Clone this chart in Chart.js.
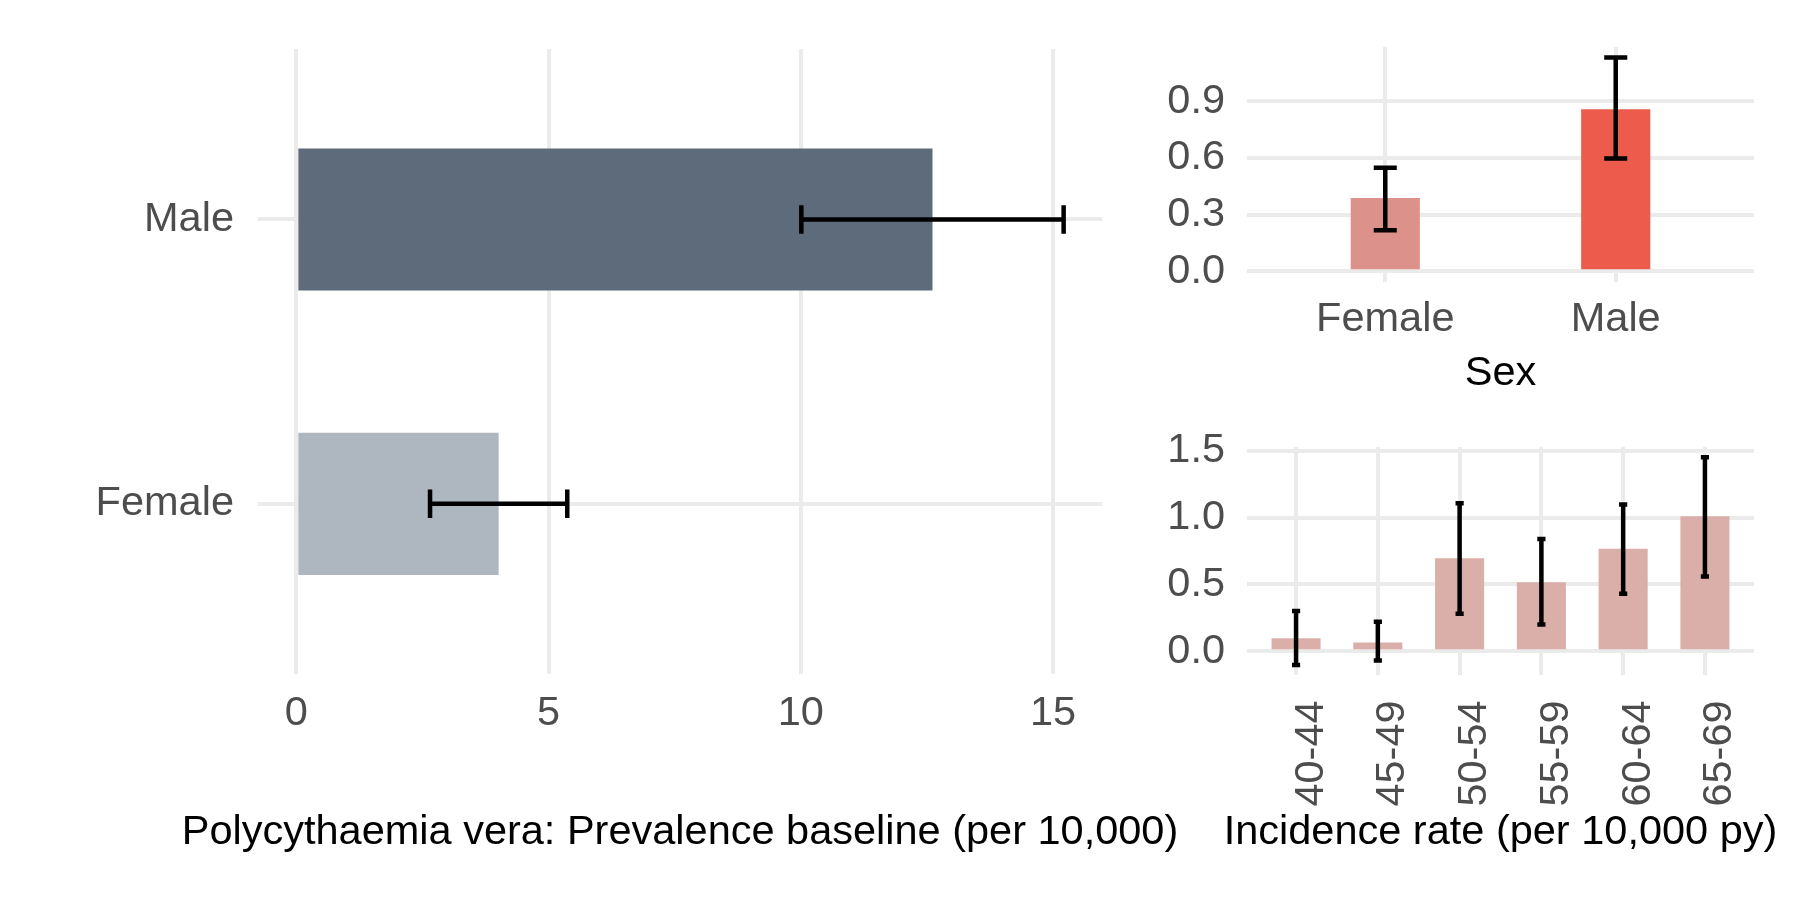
<!DOCTYPE html>
<html>
<head>
<meta charset="utf-8">
<script src="https://cdn.jsdelivr.net/npm/chart.js@4.4.1/dist/chart.umd.min.js"></script>
<style>
  html, body { margin: 0; padding: 0; background: #fff; overflow: hidden; }
  #wrap { position: relative; width: 1800px; height: 900px; }
  canvas { position: absolute; }
</style>
</head>
<body>
<div id="wrap">
  <canvas id="prevalenceChart" width="1360" height="900" style="left:0;top:0"></canvas>
  <canvas id="sexChart" width="701" height="398" style="left:1150px;top:0"></canvas>
  <canvas id="ageChart" width="701" height="500" style="left:1150px;top:400px"></canvas>
</div>
<script>
// Prevalence at baseline (per 10,000) by sex
const sexes = ['Female', 'Male'];
const prevalence = [4.01, 12.61];
const prevalenceLow = [2.65, 10.01];
const prevalenceHigh = [5.37, 15.21];
const prevalenceTicks = [0, 5, 10, 15];

// Incidence rate (per 10,000 py) by sex
const sexRate = [0.388, 0.858];
const sexRateLow = [0.218, 0.598];
const sexRateHigh = [0.549, 1.132];
const sexRateTicks = [0, 0.3, 0.6, 0.9];

// Incidence rate (per 10,000 py) by age group
const ageGroups = ['40-44', '45-49', '50-54', '55-59', '60-64', '65-69'];
const ageRate = [0.097, 0.065, 0.697, 0.517, 0.767, 1.011];
const ageRateLow = [-0.103, -0.07, 0.28, 0.20, 0.43, 0.56];
const ageRateHigh = [0.302, 0.22, 1.107, 0.84, 1.098, 1.452];
const ageRateTicks = [0, 0.5, 1.0, 1.5];

Chart.defaults.font.family = '"Liberation Sans", Arial, Helvetica, sans-serif';
Chart.defaults.font.size = 41.5;
Chart.defaults.color = '#4D4D4D';

const gridColor = '#EBEBEB';

// ggplot style 5% expansion of the value range
function expand(lo, hi) {
    const p = (hi - lo) * 0.05;
    return [lo - p, hi + p];
}

function fixedTicks(list) {
    return function(scale) {
        scale.ticks = list.map(v => ({ value: v }));
    };
}

// draws error bars through the chart scales
function errorBars(lower, upper, capFrac, lineWidth) {
    return {
        id: 'errorBars',
        afterDatasetsDraw(chart) {
            const horizontal = chart.options.indexAxis === 'y';
            const iScale = horizontal ? chart.scales.y : chart.scales.x;
            const vScale = horizontal ? chart.scales.x : chart.scales.y;
            const step = Math.abs(iScale.getPixelForValue(2) - iScale.getPixelForValue(1));
            const half = step * capFrac / 2;
            const ctx = chart.ctx;
            ctx.save();
            ctx.strokeStyle = '#000';
            ctx.lineWidth = lineWidth;
            chart.getDatasetMeta(0).data.forEach((bar, i) => {
                const c = horizontal ? bar.y : bar.x;
                const a = vScale.getPixelForValue(lower[i]);
                const b = vScale.getPixelForValue(upper[i]);
                ctx.beginPath();
                if (horizontal) {
                    ctx.moveTo(a, c); ctx.lineTo(b, c);
                    ctx.moveTo(a, c - half); ctx.lineTo(a, c + half);
                    ctx.moveTo(b, c - half); ctx.lineTo(b, c + half);
                } else {
                    ctx.moveTo(c, a); ctx.lineTo(c, b);
                    ctx.moveTo(c - half, a); ctx.lineTo(c + half, a);
                    ctx.moveTo(c - half, b); ctx.lineTo(c + half, b);
                }
                ctx.stroke();
            });
            ctx.restore();
        }
    };
}

const noPlugins = { legend: { display: false }, tooltip: { enabled: false } };

function spacer(width) {
    return {
        type: 'linear', position: 'right', display: true,
        grid: { display: false }, border: { display: false }, ticks: { display: false },
        afterFit: s => { s.width = width; }
    };
}

// Left panel
const prevRange = expand(Math.min(0, ...prevalenceLow), Math.max(...prevalenceHigh));
new Chart(document.getElementById('prevalenceChart'), {
    type: 'bar',
    data: {
        datasets: [{
            data: sexes.map((s, i) => ({ x: prevalence[i], y: i + 1 })),
            backgroundColor: ['#AEB6BF', '#5D6B7B'],
            borderWidth: 0,
            barPercentage: 0.5,
            categoryPercentage: 1
        }]
    },
    options: {
        indexAxis: 'y',
        responsive: false,
        animation: false,
        devicePixelRatio: 1,
        layout: { padding: { top: 45, left: 0, right: 0, bottom: 0 } },
        scales: {
            x: {
                type: 'linear', min: prevRange[0], max: prevRange[1],
                afterBuildTicks: fixedTicks(prevalenceTicks),
                ticks: { padding: 14, callback: v => String(v) },
                grid: { color: gridColor, lineWidth: 4, drawTicks: false },
                border: { display: false },
                afterFit: s => { s.height = 132.8; }
            },
            y: {
                type: 'linear', min: 0.4, max: sexes.length + 0.6, offset: false,
                afterBuildTicks: fixedTicks(sexes.map((s, i) => i + 1)),
                ticks: { padding: 24, callback: (v, i) => sexes[i] },
                grid: { color: gridColor, lineWidth: 4, drawTicks: false, offset: false },
                border: { display: false },
                afterFit: s => { s.width = 258; }
            },
            pad: spacer(258)
        },
        plugins: {
            ...noPlugins,
            title: {
                display: true, position: 'bottom', color: '#000',
                text: 'Polycythaemia vera: Prevalence baseline (per 10,000)',
                font: { size: 41.5, weight: 'normal' },
                padding: { top: 0, bottom: 43 }
            }
        }
    },
    plugins: [errorBars(prevalenceLow, prevalenceHigh, 0.1, 4.5)]
});

// Top right panel
const sexRange = expand(Math.min(0, ...sexRateLow), Math.max(...sexRateHigh));
new Chart(document.getElementById('sexChart'), {
    type: 'bar',
    data: {
        datasets: [{
            data: sexes.map((s, i) => ({ x: i + 1, y: sexRate[i] })),
            backgroundColor: ['#DC918A', '#EC5B4B'],
            borderWidth: 0,
            barPercentage: 0.3,
            categoryPercentage: 1
        }]
    },
    options: {
        responsive: false,
        animation: false,
        devicePixelRatio: 1,
        layout: { padding: { top: 46, left: 0, right: 97, bottom: 0 } },
        scales: {
            x: {
                type: 'linear', min: 0.4, max: sexes.length + 0.6, offset: false,
                afterBuildTicks: fixedTicks(sexes.map((s, i) => i + 1)),
                ticks: { padding: 13, callback: (v, i) => sexes[i] },
                grid: { color: gridColor, lineWidth: 4, drawTicks: false, offset: false },
                border: { display: false },
                title: { display: true, text: 'Sex', color: '#000', font: { size: 41.5 }, padding: 0 },
                afterFit: s => { s.height = 116; }
            },
            y: {
                type: 'linear', min: sexRange[0], max: sexRange[1],
                afterBuildTicks: fixedTicks(sexRateTicks),
                ticks: { padding: 22, callback: v => v.toFixed(1) },
                grid: { color: gridColor, lineWidth: 4, drawTicks: false },
                border: { display: false },
                afterFit: s => { s.width = 97; }
            }
        },
        plugins: noPlugins
    },
    plugins: [errorBars(sexRateLow, sexRateHigh, 0.1, 4.5)]
});

// Bottom right panel
const ageRange = expand(Math.min(0, ...ageRateLow), Math.max(...ageRateHigh));
new Chart(document.getElementById('ageChart'), {
    type: 'bar',
    data: {
        datasets: [{
            data: ageGroups.map((g, i) => ({ x: i + 1, y: ageRate[i] })),
            backgroundColor: '#DBAFA9',
            borderWidth: 0,
            barPercentage: 0.6,
            categoryPercentage: 1
        }]
    },
    options: {
        responsive: false,
        animation: false,
        devicePixelRatio: 1,
        layout: { padding: { top: 39, left: 0, right: 0, bottom: 0 } },
        scales: {
            x: {
                type: 'linear', min: 0.4, max: ageGroups.length + 0.6, offset: false,
                afterBuildTicks: fixedTicks(ageGroups.map((g, i) => i + 1)),
                ticks: {
                    padding: 25, minRotation: 90, maxRotation: 90, autoSkip: false,
                    labelOffset: 15,
                    font: { size: 41.5, lineHeight: 0.68 },
                    callback: (v, i) => ageGroups[i]
                },
                grid: { color: gridColor, lineWidth: 4, drawTicks: false, offset: false },
                border: { display: false },
                afterFit: s => { s.height = 131.8; }
            },
            y: {
                type: 'linear', min: ageRange[0], max: ageRange[1],
                afterBuildTicks: fixedTicks(ageRateTicks),
                ticks: { padding: 22, callback: v => v.toFixed(1) },
                grid: { color: gridColor, lineWidth: 4, drawTicks: false },
                border: { display: false },
                afterFit: s => { s.width = 97; }
            },
            pad: spacer(97)
        },
        plugins: {
            ...noPlugins,
            title: {
                display: true, position: 'bottom', color: '#000',
                text: 'Incidence rate (per 10,000 py)',
                font: { size: 41.5, weight: 'normal' },
                padding: { top: 0, bottom: 43 }
            }
        }
    },
    plugins: [errorBars(ageRateLow, ageRateHigh, 0.1, 4.5)]
});
</script>
</body>
</html>
